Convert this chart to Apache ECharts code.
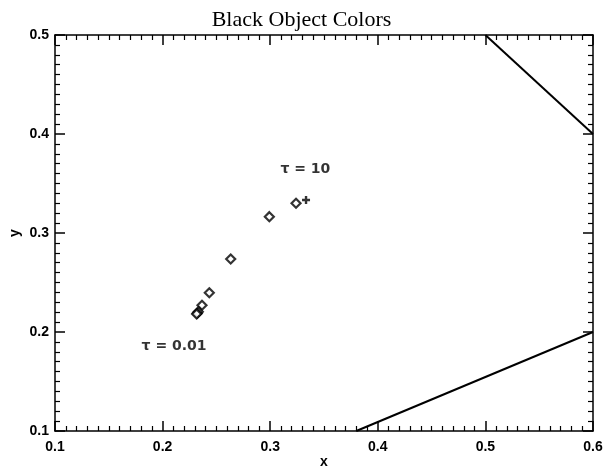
<!DOCTYPE html>
<html><head><meta charset="utf-8">
<script src="https://cdn.jsdelivr.net/npm/echarts@6/dist/echarts.min.js"></script>
<style>html,body{margin:0;padding:0;background:#fff}#c{width:603px;height:468px}</style>
</head><body><div id="c"></div>
<script>
// Data
const diamondX = [0.324, 0.2992, 0.2633, 0.2434, 0.2366, 0.2332, 0.2322, 0.2316];
const diamondY = [0.330, 0.3165, 0.2737, 0.2397, 0.2270, 0.2205, 0.2190, 0.2182];
const whitePoint = [0.3333, 0.3333];
const upperLineX = [0.5, 0.6];
const upperLineY = [0.5, 0.4];
const lowerLineX = [0.38, 0.6];
const lowerLineY = [0.1, 0.2];
const labelTexts = ['τ = 10', 'τ = 0.01'];
const labelX = [0.309, 0.18];
const labelY = [0.3646, 0.185];
const xTicks = [0.1, 0.2, 0.3, 0.4, 0.5, 0.6];
const yTicks = [0.1, 0.2, 0.3, 0.4, 0.5];

const zip = (a, b) => a.map((v, i) => [v, b[i]]);
const lab = {fontFamily: 'Liberation Sans', fontWeight: 'bold', fontSize: 14, color: '#000'};
function axisBase(extra) {
  return Object.assign({
    type: 'value',
    interval: 0.1,
    axisLine: {show: true, onZero: false, lineStyle: {color: '#000', width: 1.5}},
    axisTick: {show: true, inside: true, length: 10, lineStyle: {color: '#000', width: 1.5}},
    minorTick: {show: true, splitNumber: 10, length: 5, lineStyle: {color: '#000', width: 1.2}},
    splitLine: {show: false},
    minorSplitLine: {show: false}
  }, extra);
}
const chart = echarts.init(document.getElementById('c'), null, {renderer: 'canvas'});
chart.setOption({
  animation: false,
  backgroundColor: '#fff',
  title: {text: 'Black Object Colors', left: 'center', top: 4,
    textStyle: {fontFamily: 'Liberation Serif', fontWeight: 'normal', fontSize: 22, color: '#000'}},
  grid: {left: 55, right: 10, top: 35, bottom: 37, containLabel: false, outerBoundsMode: 'none'},
  xAxis: [
    axisBase({min: xTicks[0], max: xTicks[xTicks.length - 1], position: 'bottom',
      name: 'x', nameLocation: 'middle', nameGap: 24, nameMoveOverlap: false, nameTextStyle: lab,
      axisLabel: Object.assign({margin: 9, formatter: v => v.toFixed(1)}, lab)}),
    axisBase({min: xTicks[0], max: xTicks[xTicks.length - 1], position: 'top', axisLabel: {show: false}})
  ],
  yAxis: [
    axisBase({min: yTicks[0], max: yTicks[yTicks.length - 1], position: 'left',
      name: 'y', nameLocation: 'middle', nameGap: 33, nameMoveOverlap: false, nameTextStyle: lab,
      axisLabel: Object.assign({margin: 6, formatter: v => v.toFixed(1)}, lab)}),
    axisBase({min: yTicks[0], max: yTicks[yTicks.length - 1], position: 'right', axisLabel: {show: false}})
  ],
  series: [
    {type: 'line', data: zip(upperLineX, upperLineY), symbol: 'none', lineStyle: {color: '#000', width: 2}},
    {type: 'line', data: zip(lowerLineX, lowerLineY), symbol: 'none', lineStyle: {color: '#000', width: 2}},
    {type: 'scatter', data: zip(diamondX, diamondY), symbol: 'diamond', symbolSize: 9,
      itemStyle: {color: '#fff', borderColor: '#000', borderWidth: 2.2}},
    {type: 'scatter', data: [whitePoint], symbol: 'path://M3.5,0H6.5V3.5H10V6.5H6.5V10H3.5V6.5H0V3.5H3.5Z', symbolSize: 8,
      itemStyle: {color: '#000'}},
    {type: 'scatter', symbol: 'circle', symbolSize: 1,
      itemStyle: {color: 'rgba(0,0,0,0)'},
      data: labelTexts.map((t, i) => ({value: [labelX[i], labelY[i]], name: t})),
      label: {show: true, position: 'right', distance: 0, formatter: p => p.name,
        fontFamily: 'DejaVu Sans', fontWeight: 'bold', fontSize: 14, color: '#000'}}
  ]
});
</script></body></html>
